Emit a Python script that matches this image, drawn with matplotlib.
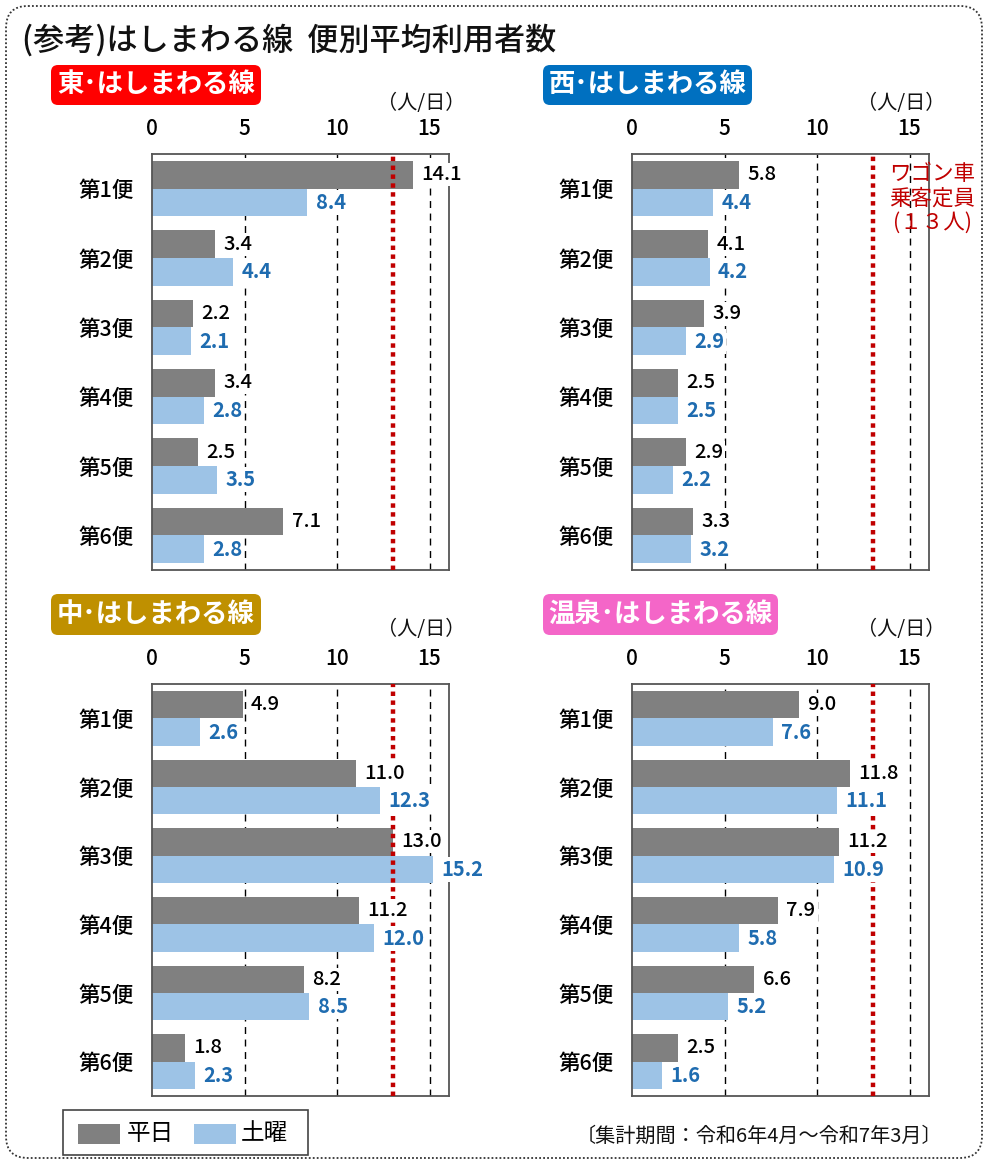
import matplotlib
matplotlib.use("Agg")
import matplotlib.pyplot as plt
from matplotlib.patches import FancyBboxPatch, Rectangle
import numpy as np

plt.rcParams['font.family'] = ['Noto Sans CJK JP', 'DejaVu Sans']

# ---- data ----
categories = ["第1便", "第2便", "第3便", "第4便", "第5便", "第6便"]
panel_names = ["東･はしまわる線", "西･はしまわる線", "中･はしまわる線", "温泉･はしまわる線"]
panel_colors = ["#ff0000", "#0070c0", "#bf9000", "#f466c8"]
east_weekday = [14.1, 3.4, 2.2, 3.4, 2.5, 7.1]
east_saturday = [8.4, 4.4, 2.1, 2.8, 3.5, 2.8]
west_weekday = [5.8, 4.1, 3.9, 2.5, 2.9, 3.3]
west_saturday = [4.4, 4.2, 2.9, 2.5, 2.2, 3.2]
center_weekday = [4.9, 11.0, 13.0, 11.2, 8.2, 1.8]
center_saturday = [2.6, 12.3, 15.2, 12.0, 8.5, 2.3]
onsen_weekday = [9.0, 11.8, 11.2, 7.9, 6.6, 2.5]
onsen_saturday = [7.6, 11.1, 10.9, 5.8, 5.2, 1.6]
xticks = [0, 5, 10, 15]
capacity = 13
series_labels = ["平日", "土曜"]

weekday_color = "#808080"
saturday_color = "#9dc3e6"
label_blue = "#1f6cb0"
red_line = "#c00000"

W, H = 988, 1164
fig = plt.figure(figsize=(W / 100, H / 100), dpi=100)

# overlay in pixel coordinates for decorations
ov = fig.add_axes([0, 0, 1, 1], zorder=-1)
ov.set_xlim(0, W)
ov.set_ylim(H, 0)
ov.axis("off")

border = FancyBboxPatch((6, 6), W - 12, H - 12,
                        boxstyle="round,pad=0,rounding_size=22",
                        fc="white", ec="#333333", lw=1.3, ls=(0, (1, 1.2)))
ov.add_patch(border)

ov.text(22, 40, "(参考)はしまわる線  便別平均利用者数", fontsize=22.4,
        fontweight="medium", va="center", ha="left", color="#111111")

panels = [
    (east_weekday, east_saturday, 152, 154, 570, (51, 65, 210, 40), (421, 103)),
    (west_weekday, west_saturday, 632, 154, 570, (543, 65, 209, 40), (901, 103)),
    (center_weekday, center_saturday, 152, 684, 1096, (51, 594, 210, 41), (421, 629)),
    (onsen_weekday, onsen_saturday, 632, 684, 1096, (543, 594, 235, 41), (901, 629)),
]

px_per_unit = 18.5
ax_w = 297

for k, (wd, sat, x0, ytop, ybot, hb, unitpos) in enumerate(panels):
    ax = fig.add_axes([x0 / W, 1 - ybot / H, ax_w / W, (ybot - ytop) / H])
    y = np.arange(len(categories))
    ax.barh(y - 0.2, wd, height=0.4, color=weekday_color, zorder=2)
    ax.barh(y + 0.2, sat, height=0.4, color=saturday_color, zorder=2)
    ax.set_xlim(0, ax_w / px_per_unit)
    ax.set_ylim(5.5, -0.5)
    for gx in xticks[1:]:
        ax.axvline(gx, color="black", lw=1.0, ls=(0, (5, 4)), zorder=1)
    ax.axvline(capacity, color=red_line, lw=3.2, ls=(0, (1, 1)), zorder=3)
    ax.set_xticks(xticks)
    ax.set_xticklabels([str(t) for t in xticks], fontsize=15, fontweight="medium")
    ax.xaxis.tick_top()
    ax.tick_params(axis="x", direction="in", length=0, pad=10)
    ax.set_yticks(y)
    ax.set_yticklabels(categories, fontsize=15.5, fontweight="medium")
    ax.tick_params(axis="y", length=0, pad=13)
    for s in ax.spines.values():
        s.set_color("#555555")
        s.set_linewidth(1.3)
    for i in range(len(categories)):
        ax.text(wd[i] + 0.45, i - 0.2, f"{wd[i]:.1f}", fontsize=14.5, fontweight="medium",
                color="black", va="center", ha="left", zorder=4,
                bbox=dict(boxstyle="square,pad=0.1", fc="white", ec="none"))
        ax.text(sat[i] + 0.45, i + 0.2, f"{sat[i]:.1f}", fontsize=14.5, fontweight="bold",
                color=label_blue, va="center", ha="left", zorder=4,
                bbox=dict(boxstyle="square,pad=0.1", fc="white", ec="none"))
    if k == 1:
        ax.text(16.22, 0.14, "ワゴン車\n乗客定員\n(１３人)", fontsize=15.5,
                color=red_line, va="center", ha="center", multialignment="center",
                linespacing=1.15, zorder=4)

    # header box
    bx, by, bw, bh = hb
    ov.add_patch(FancyBboxPatch((bx, by), bw, bh, boxstyle="round,pad=0,rounding_size=7",
                                fc=panel_colors[k], ec="none"))
    ov.text(bx + bw / 2, by + bh / 2, panel_names[k], fontsize=19, fontweight="bold",
            color="white", va="center", ha="center")
    ov.text(unitpos[0], unitpos[1], "（人/日）", fontsize=14.5, color="#111111",
            va="center", ha="center")

# legend
ov.add_patch(Rectangle((63, 1110), 245, 45, fc="white", ec="#444444", lw=1.2))
ov.add_patch(Rectangle((78, 1124), 42, 20, fc=weekday_color, ec="none"))
ov.text(127, 1134, series_labels[0], fontsize=17, va="center", ha="left")
ov.add_patch(Rectangle((194, 1124), 42, 20, fc=saturday_color, ec="none"))
ov.text(241, 1134, series_labels[1], fontsize=17, va="center", ha="left")

ov.text(942, 1136, "〔集計期間：令和6年4月～令和7年3月〕", fontsize=14.5,
        va="center", ha="right", color="#111111")

fig.savefig("out.png", dpi=100)
